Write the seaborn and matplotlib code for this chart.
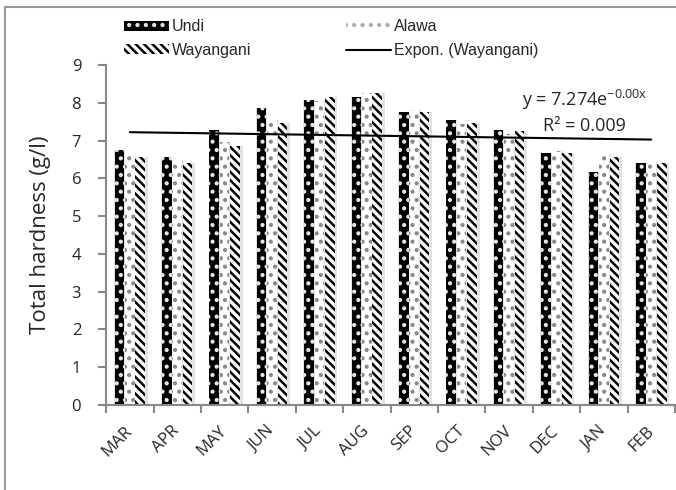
import numpy as np
import pandas as pd
import seaborn as sns
import matplotlib.pyplot as plt
from matplotlib.patches import Patch, Rectangle
from matplotlib.lines import Line2D

months = ["MAR", "APR", "MAY", "JUN", "JUL", "AUG", "SEP", "OCT", "NOV", "DEC", "JAN", "FEB"]
undi = [6.75, 6.57, 7.28, 7.87, 8.07, 8.16, 7.76, 7.54, 7.28, 6.68, 6.18, 6.40]
alawa = [6.66, 6.47, 6.97, 7.56, 8.05, 8.25, 7.80, 7.44, 7.17, 6.73, 6.64, 6.44]
wayangani = [6.57, 6.40, 6.86, 7.47, 8.16, 8.27, 7.76, 7.46, 7.26, 6.68, 6.57, 6.40]
sites = ["Undi", "Alawa", "Wayangani"]

df = pd.DataFrame({
    "month": months * 3,
    "value": undi + alawa + wayangani,
    "site": [s for s in sites for _ in months],
})

sns.set_style("white")
plt.rcParams["font.family"] = ["Open Sans", "DejaVu Sans"]
plt.rcParams["hatch.linewidth"] = 1.8

fig = plt.figure(figsize=(6.76, 4.9), dpi=100)
ax = fig.add_axes([0.157, 0.1735, 0.8415, 0.6935])

# soft grey shadow behind the bars
sns.barplot(data=df, x="month", y="value", hue="site", order=months, hue_order=sites,
            palette=["#e2e2e2"] * 3, width=0.72, gap=0.0, linewidth=0,
            legend=False, ax=ax, zorder=1)
for p in ax.patches:
    p.set_x(p.get_x() + 0.02)

sns.barplot(data=df, x="month", y="value", hue="site", order=months, hue_order=sites,
            palette=["black", "white", "white"], width=0.66, gap=0.08,
            linewidth=0, legend=False, ax=ax, zorder=2)

# patterns: dotted black, dotted white, striped
styles = [("black", "#e8e8e8", ".."), ("white", "#888888", ".."), ("white", "black", "\\\\\\\\")]
for cont, (fc, hc, h) in zip(ax.containers[3:], styles):
    for bar in cont:
        bar.set_facecolor(fc)
        bar.set_edgecolor(hc)
        bar.set_hatch(h)
        bar.set_linewidth(0)

# exponential trendline for Wayangani
xs = np.arange(len(months))
k, c = np.polyfit(xs, np.log(wayangani), 1)
ax.plot(xs, np.exp(c + k * xs), color="black", lw=1.5, zorder=3)

ax.text(9.6, 8.08, r"y = 7.274e$^{\mathregular{-0.00x}}$", ha="center", va="center", fontsize=13)
ax.text(9.6, 7.40, "R² = 0.009", ha="center", va="center", fontsize=13)

ax.set_ylim(0, 9)
ax.set_xlim(-0.5, 11.5)
ax.set_yticks(range(10))
ax.tick_params(axis="y", labelsize=12, length=6, color="#888888", left=True, width=1.5, pad=12)
ax.set_xticks(xs)
ax.set_xticklabels(months, rotation=45, fontsize=12, ha="right", va="center",
                   rotation_mode="anchor")
ax.tick_params(axis="x", length=0, pad=17)
ax.set_xticks(np.arange(-0.5, 12, 1), minor=True)
ax.tick_params(axis="x", which="minor", length=6, color="#888888", width=1.5, bottom=True)
ax.set_xlabel("")
ax.set_ylabel("Total hardness (g/l)", fontsize=16, labelpad=15)
sns.despine(ax=ax)
for s in ["left", "bottom"]:
    ax.spines[s].set_color("#888888")
    ax.spines[s].set_linewidth(1.5)

handles = [
    Patch(facecolor="black", edgecolor="#e8e8e8", hatch="..", linewidth=0),
    Patch(facecolor="white", edgecolor="black", hatch="\\\\\\\\", linewidth=0),
    Patch(facecolor="white", edgecolor="#aaaaaa", hatch="..", linewidth=0),
    Line2D([0], [0], color="black", lw=1.5),
]
labels = ["Undi", "Wayangani", "Alawa", "Expon. (Wayangani)"]
fig.legend(handles, labels, loc="upper left", bbox_to_anchor=(0.172, 0.977), ncol=2,
           frameon=False, handlelength=2.8, handleheight=0.6,
           handletextpad=0.2, columnspacing=5.9, labelspacing=0.55, borderpad=0,
           prop={"family": ["Liberation Sans", "DejaVu Sans"], "size": 11.5})

fig.patches.append(Rectangle((5 / 676, -0.1), 1.2, 1.1 - 7 / 490, transform=fig.transFigure,
                             fill=False, edgecolor="#999999", lw=1.5))

fig.savefig("out.png", dpi=100)
